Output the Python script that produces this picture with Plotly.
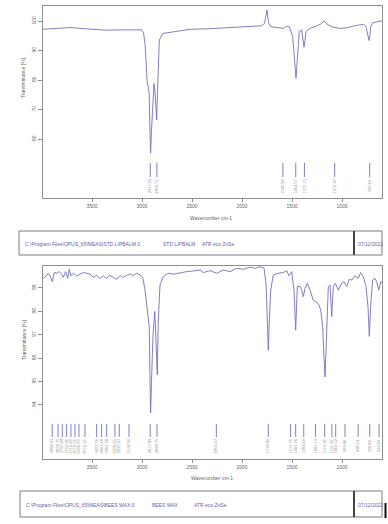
import plotly.graph_objects as go

# ---------------- data ----------------
top_wn = [3990, 3887, 3787, 3720, 3620, 3487, 3353, 3220, 3087, 3003, 2985, 2970, 2958, 2948, 2937,
          2928, 2920, 2914, 2905, 2893, 2880, 2870, 2862, 2853, 2845, 2835, 2827, 2790, 2720, 2650,
          2520, 2320, 2120, 1920, 1803, 1775, 1762, 1750, 1740, 1733, 1713, 1653, 1587, 1553, 1527,
          1493, 1477, 1465, 1460, 1452, 1443, 1427, 1403, 1390, 1380, 1370, 1360, 1320, 1253, 1203,
          1180, 1153, 1087, 1020, 953, 887, 820, 787, 760, 743, 730, 720, 713, 693, 653, 613, 600]
top_t = [97.2, 97.4, 97.6, 97.8, 97.5, 97.1, 96.9, 97.0, 97.1, 97.0, 96.0, 92.4, 85.5, 79.0, 77.5,
         75.5, 62.0, 55.3, 63.0, 72.0, 78.8, 76.0, 70.0, 66.5, 76.0, 88.0, 93.6, 95.8, 96.2, 96.6,
         97.2, 97.4, 97.7, 98.1, 98.4, 99.2, 101.5, 103.7, 101.0, 99.4, 98.1, 97.9, 97.5, 98.3, 98.1,
         94.7, 87.9, 82.0, 80.6, 84.5, 90.2, 96.4, 97.0, 94.0, 91.1, 93.5, 96.4, 97.5, 98.3, 99.2,
         100.1, 99.0, 97.9, 97.5, 97.7, 98.3, 98.6, 98.9, 98.1, 95.9, 93.4, 95.5, 98.1, 99.4, 99.8, 100.0, 100.0]

bot_wn = [3987, 3960, 3937, 3920, 3897, 3877, 3853, 3827, 3803, 3787, 3763, 3743, 3727, 3713, 3687,
          3653, 3620, 3587, 3553, 3520, 3487, 3453, 3420, 3387, 3353, 3320, 3287, 3253, 3220, 3187,
          3153, 3120, 3087, 3053, 3020, 2993, 2970, 2953, 2937, 2927, 2920, 2914, 2905, 2890, 2872,
          2862, 2853, 2847, 2838, 2820, 2787, 2737, 2687, 2620, 2553, 2487, 2420, 2387, 2320, 2253,
          2187, 2120, 2053, 1987, 1920, 1870, 1820, 1780, 1760, 1748, 1737, 1725, 1713, 1687, 1637,
          1587, 1553, 1530, 1503, 1480, 1463, 1447, 1420, 1403, 1387, 1370, 1347, 1320, 1287, 1260,
          1237, 1213, 1193, 1180, 1170, 1160, 1153, 1137, 1120, 1103, 1087, 1067, 1037, 1003, 980,
          953, 927, 900, 870, 837, 813, 787, 760, 740, 727, 710, 693, 670, 653, 633, 613, 600]
bot_t = [99.41, 99.49, 99.63, 99.52, 99.27, 99.67, 99.63, 99.70, 99.59, 99.46, 99.70, 99.41, 99.80, 99.52, 99.63,
         99.52, 99.59, 99.66, 99.63, 99.59, 99.46, 99.54, 99.41, 99.52, 99.41, 99.54, 99.46, 99.37, 99.54, 99.46,
         99.54, 99.60, 99.52, 99.63, 99.56, 99.46, 98.91, 98.20, 97.77, 97.30, 95.00, 93.67, 95.00, 97.00, 98.00,
         97.00, 95.80, 95.29, 97.50, 99.13, 99.49, 99.63, 99.59, 99.66, 99.70, 99.73, 99.77, 99.66, 99.74, 99.63,
         99.77, 99.70, 99.84, 99.80, 99.89, 99.84, 99.91, 99.86, 99.20, 97.80, 96.34, 97.80, 98.91, 99.56, 99.63,
         99.66, 99.74, 99.52, 99.70, 98.91, 97.20, 99.06, 99.06, 98.91, 98.63, 98.98, 99.20, 98.91, 98.48, 98.41,
         98.34, 98.06, 97.34, 96.00, 95.20, 96.30, 97.49, 99.06, 99.13, 97.77, 99.06, 99.20, 98.91, 99.20, 99.27,
         99.06, 99.37, 99.34, 99.52, 99.41, 99.66, 99.49, 99.06, 98.20, 96.93, 98.48, 99.34, 99.41, 99.27, 98.91, 99.27, 99.20]

top_peaks = ["2917.50", "2850.71", "1590.90", "1462.57", "1375.71", "1073.47", "723.24"]
bot_peaks = ["3898.23", "3839.75", "3797.08", "3753.46", "3710.68", "3670.19", "3630.55", "3570.19",
             "3453.50", "3403.69", "3353.38", "3270.99", "3227.67", "3130.00", "2917.89", "2849.75",
             "2256.47", "1736.80", "1513.75", "1463.36", "1382.64", "1265.13", "1173.18", "1101.36",
             "1063.12", "969.86", "838.14", "722.84", "629.50"]

x_ticks = [3500, 3000, 2500, 2000, 1500, 1000]
top_y_ticks = [60, 70, 80, 90, 100]
bot_y_ticks = [94, 95, 96, 97, 98, 99]

top_info = ["C:\\Program Files\\OPUS_65\\MEAS\\STD LIPBALM.0", "STD LIPBALM", "ATR eco ZnSe", "07/12/2022"]
bot_info = ["C:\\Program Files\\OPUS_65\\MEAS\\BEES WAX.0", "BEES WAX", "ATR eco ZnSe", "07/12/2022"]

# ---------------- layout helpers ----------------
W, H = 388, 524
def px(x):
    return x / W
def py(y):
    return 1 - y / H

LINE = "#7272bb"
FONT = "Liberation Sans, Arial, sans-serif"
TXT = "#6464a8"
GRAY = "#8f8f8f"

fig = go.Figure()
fig.add_trace(go.Scatter(x=top_wn, y=top_t, mode="lines", line=dict(color=LINE, width=0.9),
                         xaxis="x", yaxis="y", hoverinfo="skip"))
fig.add_trace(go.Scatter(x=bot_wn, y=bot_t, mode="lines", line=dict(color=LINE, width=0.9),
                         xaxis="x2", yaxis="y2", hoverinfo="skip"))

def peak_marks(labels, y_top, y_bot, xa, ya):
    xs, ys = [], []
    for s in labels:
        v = float(s)
        xs += [v, v, None]
        ys += [y_top, y_bot, None]
    fig.add_trace(go.Scatter(x=xs, y=ys, mode="lines", line=dict(color=LINE, width=0.9),
                             xaxis=xa, yaxis=ya, hoverinfo="skip"))

peak_marks(top_peaks, 51.9, 47.1, "x", "y")
peak_marks(bot_peaks, 93.19, 92.63, "x2", "y2")

annotations = []
for s in top_peaks:
    annotations.append(dict(x=float(s), y=44.1, xref="x", yref="y", text=s, textangle=-90,
                            showarrow=False, font=dict(size=4, color=GRAY, family=FONT)))
for s in bot_peaks:
    annotations.append(dict(x=float(s), y=92.25, xref="x2", yref="y2", text=s, textangle=-90,
                            showarrow=False, font=dict(size=4, color=GRAY, family=FONT)))

def title(text, x, y, angle=0):
    annotations.append(dict(x=px(x), y=py(y), xref="paper", yref="paper", text=text, textangle=angle,
                            showarrow=False, xanchor="center", yanchor="middle",
                            font=dict(size=5, color="#666666", family=FONT)))

title("Wavenumber cm-1", 211, 218)
title("Wavenumber cm-1", 212, 478)
title("Transmittance [%]", 23, 78, -90)
title("Transmittance [%]", 24, 340, -90)

def info(texts, xs, y):
    for t, x in zip(texts, xs):
        annotations.append(dict(x=px(x), y=py(y), xref="paper", yref="paper", text=t, showarrow=False,
                                xanchor="left", yanchor="middle",
                                font=dict(size=5, color=TXT, family=FONT)))

info(top_info, [23, 161, 200, 356], 244)
info(bot_info, [24, 150, 192, 356], 505)

shapes = []
def box(x0, x1, y0, y1, xd):
    shapes.append(dict(type="rect", xref="paper", yref="paper", x0=px(x0), x1=px(x1), y0=py(y1), y1=py(y0),
                       line=dict(color="#7a7a7a", width=1)))
    shapes.append(dict(type="line", xref="paper", yref="paper", x0=px(xd), x1=px(xd), y0=py(y1), y1=py(y0),
                       line=dict(color="#444444", width=2)))

box(19, 382, 231, 255, 354)
box(20, 382, 491, 517, 354)
shapes.append(dict(type="line", xref="paper", yref="paper", x0=px(385.5), x1=px(385.5), y0=py(518), y1=py(503),
                   line=dict(color="#111111", width=2)))

axis_common = dict(showgrid=False, zeroline=False, showline=True, mirror=True, linecolor=GRAY, linewidth=1,
                   ticks="outside", tickcolor=GRAY, tickfont=dict(size=5, color="#666666", family=FONT))

fig.update_layout(
    width=W, height=H, autosize=False, margin=dict(l=0, r=0, t=0, b=0),
    paper_bgcolor="white", plot_bgcolor="white", showlegend=False,
    xaxis=dict(domain=[px(43), px(382)], range=[3990, 600], anchor="y", tickvals=x_ticks, ticklen=3, **axis_common),
    yaxis=dict(domain=[py(198), py(6)], range=[40, 105.1], anchor="x", tickvals=top_y_ticks, tickangle=-90,
               ticklen=4, **axis_common),
    xaxis2=dict(domain=[px(43), px(382)], range=[3990, 600], anchor="y2", tickvals=x_ticks, ticklen=3, **axis_common),
    yaxis2=dict(domain=[py(459), py(266)], range=[91.69, 99.94], anchor="x2", tickvals=bot_y_ticks, tickangle=-90,
                ticklen=4, **axis_common),
    annotations=annotations, shapes=shapes,
)

fig.write_html("out.html", config={"displayModeBar": False},
               post_script="document.body.style.margin='0';")
